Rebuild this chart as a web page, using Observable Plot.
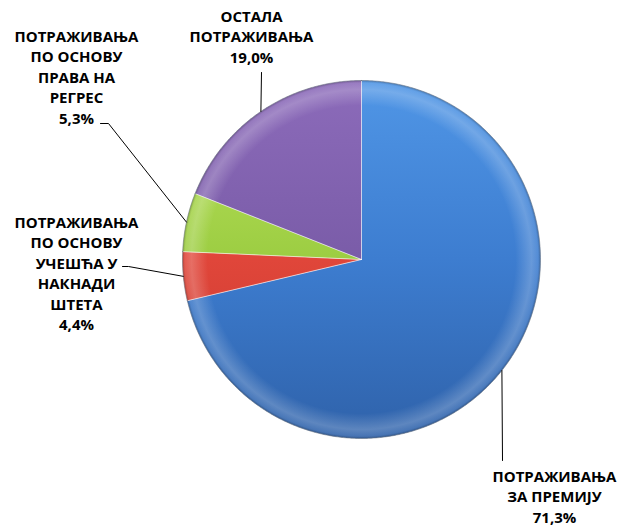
<!DOCTYPE html>
<html><head><meta charset="utf-8">
<script src="https://cdn.jsdelivr.net/npm/d3@7"></script>
<script src="https://cdn.jsdelivr.net/npm/@observablehq/plot@0.6"></script>
<style>body{margin:0;background:#fff}#chart svg{display:block}</style>
</head><body><div id="chart"></div>
<script>
// ---- data ----
const categories = [
  "ПОТРАЖИВАЊА\nЗА ПРЕМИЈУ",
  "ПОТРАЖИВАЊА\nПО ОСНОВУ\nУЧЕШЋА У\nНАКНАДИ\nШТЕТА",
  "ПОТРАЖИВАЊА\nПО ОСНОВУ\nПРАВА НА\nРЕГРЕС",
  "ОСТАЛА\nПОТРАЖИВАЊА"
];
const values = [71.3, 4.4, 5.3, 19.0];
const valueLabels = ["71,3%", "4,4%", "5,3%", "19,0%"];
const sliceColors = [
  ["#5096e6", "#3d7dd0", "#2f62aa"],
  ["#f25a4c", "#e0463a", "#c5372d"],
  ["#bce35f", "#9ccd42", "#86b832"],
  ["#8c6bba", "#7a5ca8", "#664b92"]
];

// ---- layout (pixels) ----
const W = 631, H = 527, CX = 361, CY = 259, R = 179;
// label text anchor (center x, cap-top y) and leader line start points
const labelLayout = [
  {tx: 554, ty: 467, leader: [[502, 460]]},
  {tx: 76, ty: 213, leader: [[122, 266], [128, 266]]},
  {tx: 76, ty: 27, leader: [[100, 123], [108, 123]]},
  {tx: 251, ty: 7, leader: [[261, 72]]}
];
const FS = 15, LH = 20.4;

const toX = px => (px - CX) / R, toY = py => (py - CY) / R;

const arcs = d3.pie().sort(null).startAngle(0).endAngle(2 * Math.PI)(values);

const slicePts = [];
arcs.forEach((a, i) => {
  slicePts.push({s: i, x: 0, y: 0});
  const n = Math.max(4, Math.ceil((a.endAngle - a.startAngle) / (Math.PI / 360)));
  for (let k = 0; k <= n; k++) {
    const t = a.startAngle + (a.endAngle - a.startAngle) * k / n;
    slicePts.push({s: i, x: Math.sin(t), y: -Math.cos(t)});
  }
  slicePts.push({s: i, x: 0, y: 0});
});

const leaderPts = [];
arcs.forEach((a, i) => {
  const m = (a.startAngle + a.endAngle) / 2;
  labelLayout[i].leader.forEach(p => leaderPts.push({s: i, x: toX(p[0]), y: toY(p[1])}));
  leaderPts.push({s: i, x: Math.sin(m), y: -Math.cos(m)});
});

const labels = categories.map((c, i) => ({
  text: c + "\n" + valueLabels[i],
  x: toX(labelLayout[i].tx),
  y: toY(labelLayout[i].ty)
}));

const marks = [];
arcs.forEach((a, i) => {
  const pts = slicePts.filter(d => d.s === i);
  marks.push(Plot.line(pts, {x: "x", y: "y", fill: `url(#grad${i})`, stroke: "none", curve: "linear"}));
});
arcs.forEach((a, i) => {
  const pts = slicePts.filter(d => d.s === i);
  marks.push(Plot.line(pts, {x: "x", y: "y", fill: "url(#rim)", stroke: "#ffffff", strokeOpacity: 0.35, strokeWidth: 1, curve: "linear"}));
});
arcs.forEach((a, i) => {
  const pts = slicePts.filter(d => d.s === i).slice(1, -1);
  marks.push(Plot.line(pts, {x: "x", y: "y", stroke: "#1e2a40", strokeOpacity: 0.35, strokeWidth: 1, curve: "linear"}));
});
marks.push(Plot.line(leaderPts, {x: "x", y: "y", z: "s", stroke: "#000", strokeWidth: 1, curve: "linear"}));
marks.push(Plot.text(labels, {
  x: "x", y: "y", text: "text", lineAnchor: "top", textAnchor: "middle",
  fontSize: FS, fontWeight: "bold", lineHeight: LH / FS, fill: "#000",
  fontFamily: "'Open Sans', 'DejaVu Sans', sans-serif"
}));

const chart = Plot.plot({
  width: W, height: H,
  margin: 0,
  style: {background: "#fff", overflow: "visible"},
  x: {domain: [toX(0), toX(W)], range: [0, W], axis: null},
  y: {domain: [toY(0), toY(H)], range: [0, H], axis: null},
  marks
});

const svg = d3.select(chart);
const defs = svg.insert("defs", ":first-child");
sliceColors.forEach((c, i) => {
  const g = defs.append("linearGradient").attr("id", `grad${i}`)
    .attr("gradientUnits", "userSpaceOnUse")
    .attr("x1", CX).attr("y1", CY - R).attr("x2", CX).attr("y2", CY + R);
  g.append("stop").attr("offset", "0").attr("stop-color", c[0]);
  g.append("stop").attr("offset", "0.5").attr("stop-color", c[1]);
  g.append("stop").attr("offset", "1").attr("stop-color", c[2]);
});
const rim = defs.append("radialGradient").attr("id", "rim")
  .attr("gradientUnits", "userSpaceOnUse")
  .attr("cx", CX).attr("cy", CY).attr("r", R);
[[0, "#fff", 0], [0.86, "#fff", 0], [0.95, "#fff", 0.22], [0.985, "#fff", 0.12], [1, "#000", 0.25]]
  .forEach(([o, c, op]) => rim.append("stop").attr("offset", o).attr("stop-color", c).attr("stop-opacity", op));

document.getElementById("chart").appendChild(chart);
</script>
</body></html>
